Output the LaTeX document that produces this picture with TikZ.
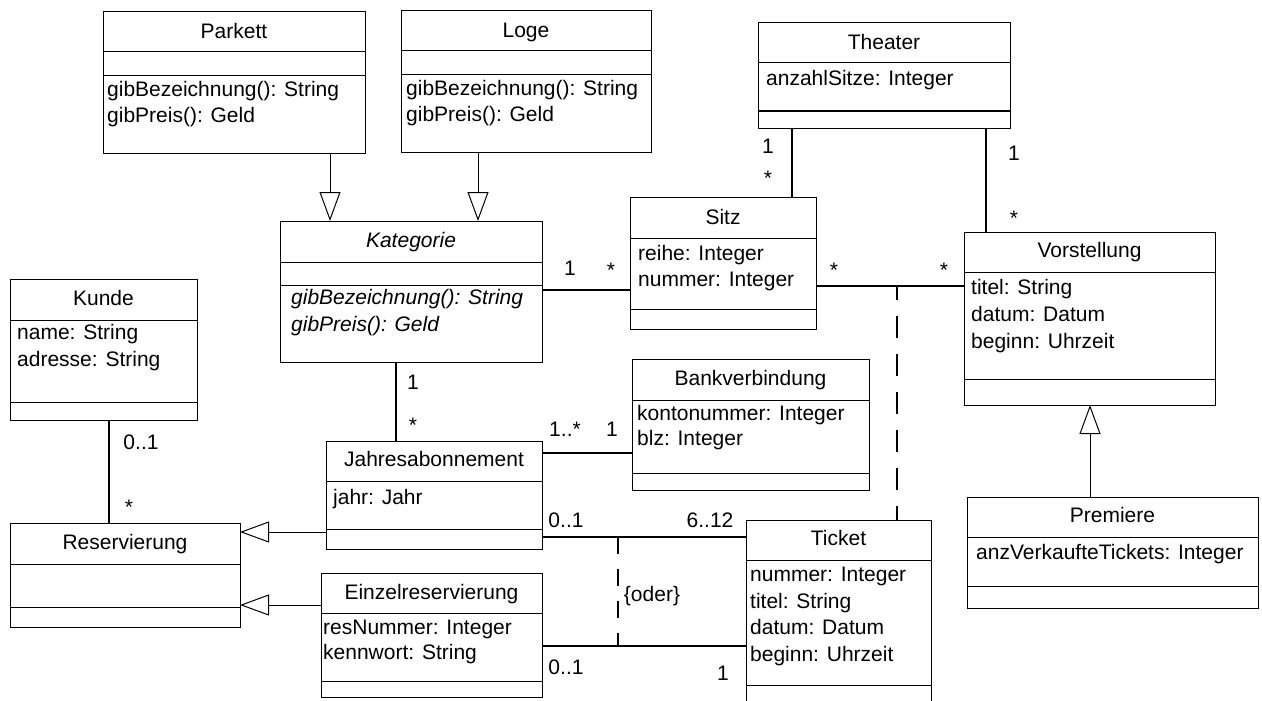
\documentclass[tikz,border=0pt]{standalone}
\usepackage{fontspec}
\setmainfont{Liberation Sans}
\usetikzlibrary{arrows.meta}

\begin{document}
\begin{tikzpicture}[x=1pt, y=-1pt,
    cls/.style={draw, line width=1pt, anchor=north west, inner sep=0pt, outer sep=0pt},
    ttl/.style={font=\fontsize{21}{25}\selectfont, text height=15pt, text depth=4pt, inner sep=0pt},
    attr/.style={ttl, anchor=west},
    mult/.style={ttl},
    sep/.style={line width=1pt},
    assoc/.style={line width=2pt},
    gen/.style={line width=1pt, -{Triangle[open, length=29pt, width=21pt, line width=1pt]}},
    oder/.style={line width=2pt, dash pattern=on 17pt off 15pt},
    link/.style={line width=2pt, dash pattern=on 22pt off 16pt, dash phase=8pt}
  ]
  \useasboundingbox (0,0) rectangle (1262,701);

  % classes
  \node[cls, minimum width=262pt, minimum height=141pt] (parkett)  at (103,12)  {};
  \node[cls, minimum width=250pt, minimum height=141pt] (loge)     at (401,11)  {};
  \node[cls, minimum width=252pt, minimum height=105pt] (theater)  at (758,23)  {};
  \node[cls, minimum width=262pt, minimum height=141pt] (kat)      at (280,221) {};
  \node[cls, minimum width=186pt, minimum height=132pt] (sitz)     at (630,197) {};
  \node[cls, minimum width=251pt, minimum height=173pt] (vorst)    at (964,232) {};
  \node[cls, minimum width=187pt, minimum height=141pt] (kunde)    at (10,279)  {};
  \node[cls, minimum width=237pt, minimum height=131pt] (bank)     at (632,359) {};
  \node[cls, minimum width=216pt, minimum height=108pt] (jahres)   at (326,441) {};
  \node[cls, minimum width=230pt, minimum height=104pt] (reserv)   at (10,523)  {};
  \node[cls, minimum width=221pt, minimum height=124pt] (einzel)   at (321,573) {};
  \node[cls, minimum width=185pt, minimum height=200pt] (ticket)   at (746,520) {};
  \node[cls, minimum width=291pt, minimum height=111pt] (premiere) at (967,497) {};

  % compartments
  \draw[sep] (parkett.west |- 0,52)  -- (parkett.east |- 0,52);
  \draw[sep] (parkett.west |- 0,76)  -- (parkett.east |- 0,76);
  \draw[sep] (loge.west |- 0,51)     -- (loge.east |- 0,51);
  \draw[sep] (loge.west |- 0,75)     -- (loge.east |- 0,75);
  \draw[sep] (theater.west |- 0,63)  -- (theater.east |- 0,63);
  \draw[sep] (theater.west |- 0,111) -- (theater.east |- 0,111);
  \draw[sep] (kat.west |- 0,262)     -- (kat.east |- 0,262);
  \draw[sep] (kat.west |- 0,285)     -- (kat.east |- 0,285);
  \draw[sep] (sitz.west |- 0,238)    -- (sitz.east |- 0,238);
  \draw[sep] (sitz.west |- 0,309)    -- (sitz.east |- 0,309);
  \draw[sep] (vorst.west |- 0,272)   -- (vorst.east |- 0,272);
  \draw[sep] (vorst.west |- 0,379)   -- (vorst.east |- 0,379);
  \draw[sep] (kunde.west |- 0,320)   -- (kunde.east |- 0,320);
  \draw[sep] (kunde.west |- 0,402)   -- (kunde.east |- 0,402);
  \draw[sep] (bank.west |- 0,400)    -- (bank.east |- 0,400);
  \draw[sep] (bank.west |- 0,473)    -- (bank.east |- 0,473);
  \draw[sep] (jahres.west |- 0,481)  -- (jahres.east |- 0,481);
  \draw[sep] (jahres.west |- 0,529)  -- (jahres.east |- 0,529);
  \draw[sep] (reserv.west |- 0,564)  -- (reserv.east |- 0,564);
  \draw[sep] (reserv.west |- 0,607)  -- (reserv.east |- 0,607);
  \draw[sep] (einzel.west |- 0,613)  -- (einzel.east |- 0,613);
  \draw[sep] (einzel.west |- 0,681)  -- (einzel.east |- 0,681);
  \draw[sep] (ticket.west |- 0,560)  -- (ticket.east |- 0,560);
  \draw[sep] (ticket.west |- 0,685)  -- (ticket.east |- 0,685);
  \draw[sep] (premiere.west |- 0,537) -- (premiere.east |- 0,537);
  \draw[sep] (premiere.west |- 0,586) -- (premiere.east |- 0,586);

  % names
  \node[ttl] (parkett-n)  at (parkett.north |- 0,33)  {Parkett};
  \node[ttl] (loge-n)     at (loge.north |- 0,32)     {Loge};
  \node[ttl] (theater-n)  at (theater.north |- 0,44)  {Theater};
  \node[ttl] (kat-n)      at (kat.north |- 0,242)     {\itshape Kategorie};
  \node[ttl] (sitz-n)     at (sitz.north |- 0,219)    {Sitz};
  \node[ttl] (vorst-n)    at (vorst.north |- 0,252)   {Vorstellung};
  \node[ttl] (kunde-n)    at (kunde.north |- 0,300)   {Kunde};
  \node[ttl] (bank-n)     at (bank.north |- 0,380)    {Bankverbindung};
  \node[ttl] (jahres-n)   at (jahres.north |- 0,461)  {Jahresabonnement};
  \node[ttl] (reserv-n)   at (reserv.north |- 0,544)  {Reservierung};
  \node[ttl] (einzel-n)   at (einzel.north |- 0,594)  {Einzelreservierung};
  \node[ttl] (ticket-n)   at (ticket.north |- 0,540)  {Ticket};
  \node[ttl] (premiere-n) at (premiere.north |- 0,517) {Premiere};

  % attributes and operations
  \node[attr] (parkett-o1) at (107,91)  {gibBezeichnung(): String};
  \node[attr] (parkett-o2) at (107,117) {gibPreis(): Geld};
  \node[attr] (loge-o1)    at (406,90)  {gibBezeichnung(): String};
  \node[attr] (loge-o2)    at (406,116) {gibPreis(): Geld};
  \node[attr] (theater-a1) at (766,80)  {anzahlSitze: Integer};
  \node[attr] (kat-o1)     at (291,299) {\itshape gibBezeichnung(): String};
  \node[attr] (kat-o2)     at (291,326) {\itshape gibPreis(): Geld};
  \node[attr] (sitz-a1)    at (638,255) {reihe: Integer};
  \node[attr] (sitz-a2)    at (638,281) {nummer: Integer};
  \node[attr] (vorst-a1)   at (971,289) {titel: String};
  \node[attr] (vorst-a2)   at (971,316) {datum: Datum};
  \node[attr] (vorst-a3)   at (971,343) {beginn: Uhrzeit};
  \node[attr] (kunde-a1)   at (17,334)  {name: String};
  \node[attr] (kunde-a2)   at (17,361)  {adresse: String};
  \node[attr] (bank-a1)    at (637,415) {kontonummer: Integer};
  \node[attr] (bank-a2)    at (637,440) {blz: Integer};
  \node[attr] (jahres-a1)  at (333,499) {jahr: Jahr};
  \node[attr] (einzel-a1)  at (323,629) {resNummer: Integer};
  \node[attr] (einzel-a2)  at (323,654) {kennwort: String};
  \node[attr] (ticket-a1)  at (750,576) {nummer: Integer};
  \node[attr] (ticket-a2)  at (750,603) {titel: String};
  \node[attr] (ticket-a3)  at (750,629) {datum: Datum};
  \node[attr] (ticket-a4)  at (750,656) {beginn: Uhrzeit};
  \node[attr] (premiere-a1) at (976,554) {anzVerkaufteTickets: Integer};

  % generalizations
  \draw[gen] (330,0 |- parkett.south) -- (330,0 |- kat.north);
  \draw[gen] (478,0 |- loge.south)    -- (478,0 |- kat.north);
  \draw[gen] (jahres.west |- 0,532)   -- (reserv.east |- 0,532);
  \draw[gen] (einzel.west |- 0,605)   -- (reserv.east |- 0,605);
  \draw[gen] (1090,0 |- premiere.north) -- (1090,0 |- vorst.south);

  % associations
  \draw[assoc] (792,0 |- theater.south) -- (792,0 |- sitz.north);
  \draw[assoc] (986,0 |- theater.south) -- (986,0 |- vorst.north);
  \draw[assoc] (kat.east |- 0,290)    -- (sitz.west |- 0,290);
  \draw[assoc] (sitz.east |- 0,286)   -- (vorst.west |- 0,286);
  \draw[assoc] (396,0 |- kat.south)   -- (396,0 |- jahres.north);
  \draw[assoc] (jahres.east |- 0,453) -- (bank.west |- 0,453);
  \draw[assoc] (109,0 |- kunde.south) -- (109,0 |- reserv.north);
  \draw[assoc] (jahres.east |- 0,537) -- (ticket.west |- 0,537);
  \draw[assoc] (einzel.east |- 0,646) -- (ticket.west |- 0,646);

  % constraint and association class link
  \draw[oder] (618,537) -- (618,646);
  \node[ttl] (oder) at (652,596) {\{oder\}};
  \draw[link] (897,286) -- (897,0 |- ticket.north);

  % multiplicities
  \node[mult] (m1)  at (570,270)  {1};
  \node[mult] (m2)  at (611,272)  {*};
  \node[mult] (m3)  at (768,148)  {1};
  \node[mult] (m4)  at (768,180)  {*};
  \node[mult] (m5)  at (1014,155) {1};
  \node[mult] (m6)  at (1014,220) {*};
  \node[mult] (m7)  at (834,272)  {*};
  \node[mult] (m8)  at (944,272)  {*};
  \node[mult] (m9)  at (413,384)  {1};
  \node[mult] (m10) at (413,427)  {*};
  \node[mult] (m11) at (565,431)  {1..*};
  \node[mult] (m12) at (612,431)  {1};
  \node[mult] (m13) at (141,444)  {0..1};
  \node[mult] (m14) at (129,509)  {*};
  \node[mult] (m15) at (566,522)  {0..1};
  \node[mult] (m16) at (710,522)  {6..12};
  \node[mult] (m17) at (566,669)  {0..1};
  \node[mult] (m18) at (723,675)  {1};
\end{tikzpicture}
\end{document}
